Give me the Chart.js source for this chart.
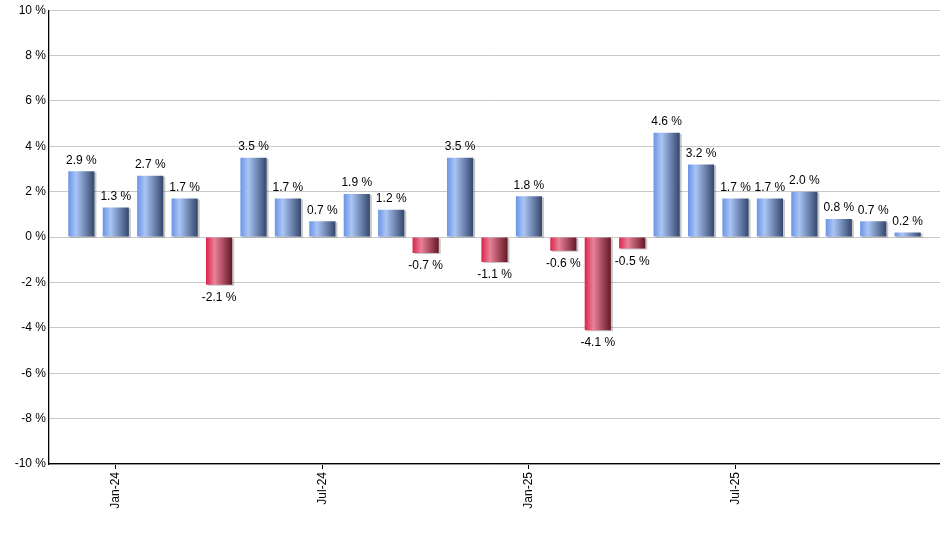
<!DOCTYPE html>
<html>
<head>
<meta charset="utf-8">
<script src="https://cdn.jsdelivr.net/npm/chart.js@4/dist/chart.umd.min.js"></script>
<style>
    html, body { margin: 0; padding: 0; background: #fff; }
    #wrap { width: 940px; height: 550px; }
</style>
</head>
<body>
<div id="wrap"><canvas id="returnsChart"></canvas></div>
<script>
// Monthly returns, Dec-23 .. Dec-25
const months = ["Dec-23", "Jan-24", "Feb-24", "Mar-24", "Apr-24", "May-24", "Jun-24", "Jul-24", "Aug-24",
    "Sep-24", "Oct-24", "Nov-24", "Dec-24", "Jan-25", "Feb-25", "Mar-25", "Apr-25", "May-25", "Jun-25",
    "Jul-25", "Aug-25", "Sep-25", "Oct-25", "Nov-25", "Dec-25"];
const returns = [2.9, 1.3, 2.7, 1.7, -2.1, 3.5, 1.7, 0.7, 1.9, 1.2, -0.7, 3.5, -1.1, 1.8, -0.6, -4.1, -0.5,
    4.6, 3.2, 1.7, 1.7, 2.0, 0.8, 0.7, 0.2];
const xTickMonths = ["Jan-24", "Jul-24", "Jan-25", "Jul-25"];
const yTicks = [-10, -8, -6, -4, -2, 0, 2, 4, 6, 8, 10];

const FONT = "'Liberation Sans', Arial, sans-serif";

// horizontal "cylinder" gradient for each bar
function barGradient(context) {
    const chart = context.chart;
    const x = chart.scales.x;
    const neg = returns[context.dataIndex] < 0;
    if (!x || context.dataIndex === undefined) return neg ? "#c83a5a" : "#7fa2e8";
    const center = x.getPixelForValue(context.dataIndex);
    const w = (x.getPixelForValue(1) - x.getPixelForValue(0)) * 0.76;
    if (!isFinite(center) || !isFinite(w) || w <= 0) return neg ? "#c83a5a" : "#7fa2e8";
    const left = center - w / 2;
    const g = chart.ctx.createLinearGradient(left, 0, left + w, 0);
    if (neg) {
        g.addColorStop(0, "#da2449");
        g.addColorStop(0.33, "#e98299");
        g.addColorStop(1, "#661626");
    } else {
        g.addColorStop(0, "#6a94e6");
        g.addColorStop(0.3, "#aac5f5");
        g.addColorStop(1, "#34476d");
    }
    return g;
}

// draws a little shadow on the right of the bars
const barShadow = {
    id: "barShadow",
    beforeDatasetsDraw(chart) {
        const ctx = chart.ctx;
        ctx.save();
        ctx.shadowColor = "rgba(0,0,0,0.22)";
        ctx.shadowOffsetX = 2;
        ctx.shadowOffsetY = 1;
        ctx.shadowBlur = 0;
    },
    afterDatasetsDraw(chart) {
        chart.ctx.restore();
    }
};

// value labels above / below each bar
const valueLabels = {
    id: "valueLabels",
    afterDatasetsDraw(chart) {
        const ctx = chart.ctx;
        const meta = chart.getDatasetMeta(0);
        ctx.save();
        ctx.font = "12px " + FONT;
        ctx.fillStyle = "#000";
        ctx.textAlign = "center";
        meta.data.forEach(function (bar, i) {
            const v = returns[i];
            const text = v.toFixed(1) + " %";
            if (v >= 0) {
                ctx.textBaseline = "bottom";
                ctx.fillText(text, bar.x, bar.y - 5);
            } else {
                ctx.textBaseline = "top";
                ctx.fillText(text, bar.x, bar.y + 7);
            }
        });
        ctx.restore();
    }
};

document.addEventListener("DOMContentLoaded", function () {
    const ctx = document.getElementById("returnsChart").getContext("2d");

    const chart = new Chart(ctx, {
        type: "bar",
        data: {
            datasets: [
                {
                    data: returns.map((v, i) => ({ x: i, y: v })),
                    backgroundColor: barGradient,
                    borderWidth: 0,
                    categoryPercentage: 0.76,
                    barPercentage: 1,
                },
            ],
        },
        options: {
            responsive: true,
            maintainAspectRatio: false,
            animation: false,
            layout: { padding: { top: 9, left: 0, right: 0, bottom: 0 } },
            plugins: {
                legend: { display: false },
                tooltip: { enabled: false },
            },
            scales: {
                x: {
                    type: "linear",
                    offset: false,
                    min: -0.94,
                    max: 24.94,
                    afterBuildTicks: function (axis) {
                        axis.ticks = xTickMonths.map(m => ({ value: months.indexOf(m) }));
                    },
                    afterFit: function (axis) { axis.height = 86; },
                    ticks: {
                        minRotation: 90,
                        maxRotation: 90,
                        padding: 3,
                        color: "#000",
                        font: { family: FONT, size: 12 },
                        callback: function (value) { return months[value]; },
                    },
                    grid: {
                        offset: false,
                        drawOnChartArea: false,
                        drawTicks: true,
                        tickLength: 5,
                        color: "#000",
                    },
                    border: { display: true, color: "#000", width: 1.3 },
                },
                y: {
                    min: -10,
                    max: 10,
                    afterBuildTicks: function (axis) {
                        axis.ticks = yTicks.map(v => ({ value: v }));
                    },
                    afterFit: function (axis) { axis.width = 49; },
                    ticks: {
                        padding: 3,
                        color: "#000",
                        font: { family: FONT, size: 12 },
                        callback: function (value) { return value + " %"; },
                    },
                    grid: {
                        drawTicks: false,
                        color: "#c8c8c8",
                    },
                    border: { display: true, color: "#000", width: 1.3 },
                },
            },
        },
        plugins: [barShadow, valueLabels],
    });
    // second pass so the gradients use the laid-out scales
    chart.update("none");
});
</script>
</body>
</html>
